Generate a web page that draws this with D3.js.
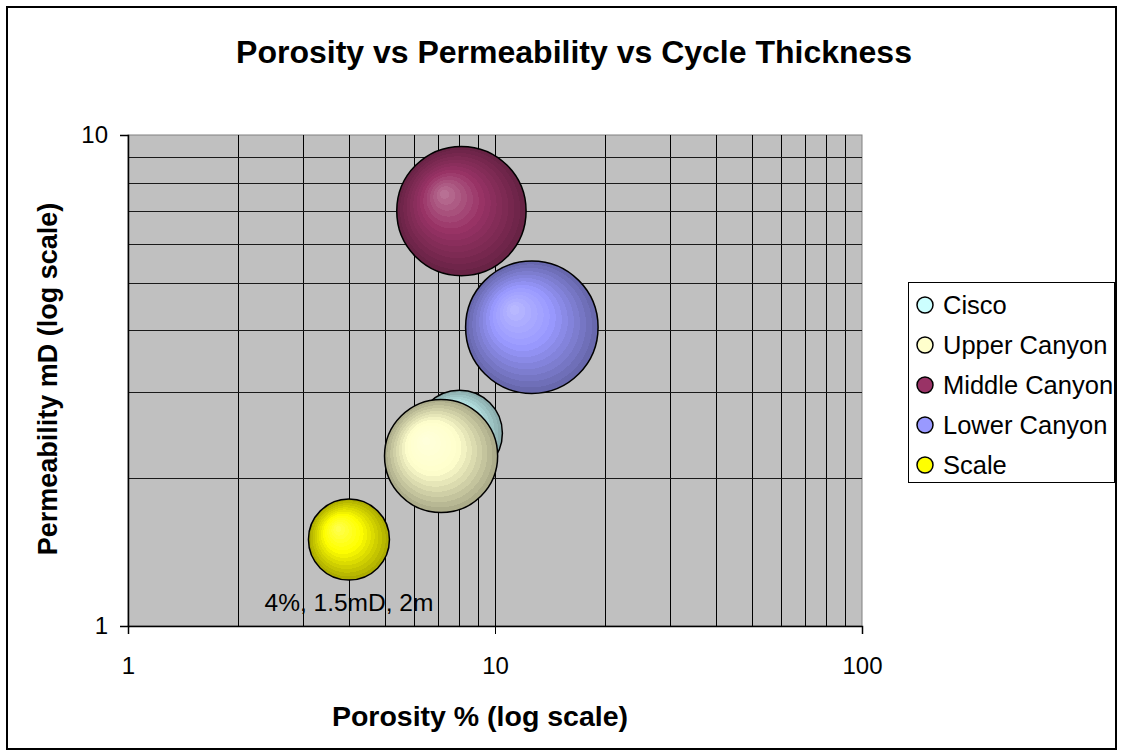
<!DOCTYPE html>
<html>
<head>
<meta charset="utf-8">
<script src="https://cdn.jsdelivr.net/npm/d3@7"></script>
<style>
  html, body { margin: 0; padding: 0; background: #fff; }
  svg text { font-family: "Liberation Sans", Arial, sans-serif; fill: #000; }
</style>
</head>
<body>
<svg id="chart" width="1123" height="756"></svg>
<script>
// Cycle data: porosity (%), permeability (mD), cycle thickness (m)
const series    = ["Cisco", "Upper Canyon", "Middle Canyon", "Lower Canyon", "Scale"];
const porosity  = [8.0, 7.13, 8.1, 12.6, 4];
const perm      = [2.47, 2.22, 7.0, 4.06, 1.5];
const thickness = [2.25, 3.9, 5.1, 5.35, 2];
const colors    = ["#ccffff", "#ffffcc", "#993366", "#9999ff", "#ffff00"];
const xTicks = [1, 10, 100];
const yTicks = [1, 10];
const scaleLabel = "4%, 1.5mD, 2m";

const svg = d3.select("#chart");
const plot = { left: 128, right: 862, top: 135, bottom: 626 };

// Chart frame
svg.append("rect").attr("x", 7).attr("y", 7).attr("width", 1109).attr("height", 742)
  .attr("fill", "#fff").attr("stroke", "#000").attr("stroke-width", 2);

const x = d3.scaleLog().domain([1, 100]).range([plot.left, plot.right]);
const y = d3.scaleLog().domain([1, 10]).range([plot.bottom, plot.top]);
const r = d3.scaleSqrt().domain([0, 2]).range([0, 40.5]);

// Plot area background
svg.append("rect").attr("x", plot.left).attr("y", plot.top)
  .attr("width", plot.right - plot.left).attr("height", plot.bottom - plot.top)
  .attr("fill", "#c0c0c0").attr("stroke", "#808080").attr("stroke-width", 1);

// Gridlines at every log step
const xGrid = [2,3,4,5,6,7,8,9,10,20,30,40,50,60,70,80,90];
const yGrid = [2,3,4,5,6,7,8,9];
const grid = svg.append("g");
grid.selectAll("line.v").data(xGrid).join("line").attr("class", "v")
  .attr("x1", d => Math.round(x(d)) + 0.5).attr("x2", d => Math.round(x(d)) + 0.5)
  .attr("y1", plot.top).attr("y2", plot.bottom)
  .attr("stroke", "#000").attr("stroke-width", 1);
grid.selectAll("line.h").data(yGrid).join("line").attr("class", "h")
  .attr("y1", d => Math.round(y(d)) + 0.5).attr("y2", d => Math.round(y(d)) + 0.5)
  .attr("x1", plot.left).attr("x2", plot.right)
  .attr("stroke", "#1a1a1a").attr("stroke-width", 1);

// Axes
const xAxis = svg.append("g").attr("transform", `translate(0,${plot.bottom})`)
  .call(d3.axisBottom(x).tickValues(xTicks).tickFormat(d3.format("d"))
    .tickSize(8).tickPadding(23));
const yAxis = svg.append("g").attr("transform", `translate(${plot.left},0)`)
  .call(d3.axisLeft(y).tickValues(yTicks).tickFormat(d3.format("d"))
    .tickSize(8).tickPadding(12));
[xAxis, yAxis].forEach(g => {
  g.select(".domain").attr("stroke", "#000").attr("stroke-width", 1.5);
  g.selectAll(".tick line").attr("stroke", "#000");
  g.selectAll(".tick text").attr("font-size", 24)
    .attr("font-family", "Liberation Sans, Arial, sans-serif").attr("fill", "#000");
});

// Banded radial shading for the bubbles
const defs = svg.append("defs");
function shadeGradient(id, base) {
  const g = defs.append("radialGradient").attr("id", id)
    .attr("cx", 0.5).attr("cy", 0.5).attr("r", 0.5).attr("fx", 0.36).attr("fy", 0.36);
  const light = d3.interpolateRgb(base, "#fff")(0.3);
  const dark = d3.interpolateRgb(base, "#000")(0.32);
  const steps = 14;
  for (let i = 0; i < steps; i++) {
    const t = i / (steps - 1);
    const c = t < 0.45 ? d3.interpolateRgb(light, base)(t / 0.45)
                       : d3.interpolateRgb(base, dark)((t - 0.45) / 0.55);
    g.append("stop").attr("offset", i / steps).attr("stop-color", c);
    g.append("stop").attr("offset", (i + 1) / steps).attr("stop-color", c);
  }
}
series.forEach((s, i) => shadeGradient("g" + i, colors[i]));

// Bubbles
const data = series.map((s, i) => ({ s, i, px: porosity[i], py: perm[i], t: thickness[i] }));
svg.append("g").selectAll("circle").data(data).join("circle")
  .attr("cx", d => x(d.px)).attr("cy", d => y(d.py)).attr("r", d => r(d.t))
  .attr("fill", d => `url(#g${d.i})`).attr("stroke", "#000").attr("stroke-width", 1.5);

// Label on the scale bubble
const sc = data[4];
svg.append("text").attr("x", x(sc.px)).attr("y", y(sc.py) + r(sc.t) + 31)
  .attr("text-anchor", "middle").attr("font-size", 24.5).text(scaleLabel);

// Titles
svg.append("text").attr("x", 574).attr("y", 63).attr("text-anchor", "middle")
  .attr("font-size", 32).attr("font-weight", "bold")
  .text("Porosity vs Permeability vs Cycle Thickness");
svg.append("text").attr("x", 480).attr("y", 726).attr("text-anchor", "middle")
  .attr("font-size", 28.5).attr("font-weight", "bold").text("Porosity % (log scale)");
svg.append("text").attr("transform", "translate(57,379) rotate(-90)")
  .attr("text-anchor", "middle").attr("font-size", 27).attr("font-weight", "bold")
  .text("Permeability mD (log scale)");

// Legend
const lg = svg.append("g");
lg.append("rect").attr("x", 908.5).attr("y", 282.5).attr("width", 206).attr("height", 200)
  .attr("fill", "#fff").attr("stroke", "#000").attr("stroke-width", 1);
const items = lg.selectAll("g.item").data(data).join("g").attr("class", "item")
  .attr("transform", (d, i) => `translate(925,${305 + i * 40})`);
items.append("circle").attr("r", 8).attr("fill", d => colors[d.i])
  .attr("stroke", "#000").attr("stroke-width", 1.5);
items.append("text").attr("x", 18).attr("y", 9).attr("font-size", 25.5).text(d => d.s);
</script>
</body>
</html>
